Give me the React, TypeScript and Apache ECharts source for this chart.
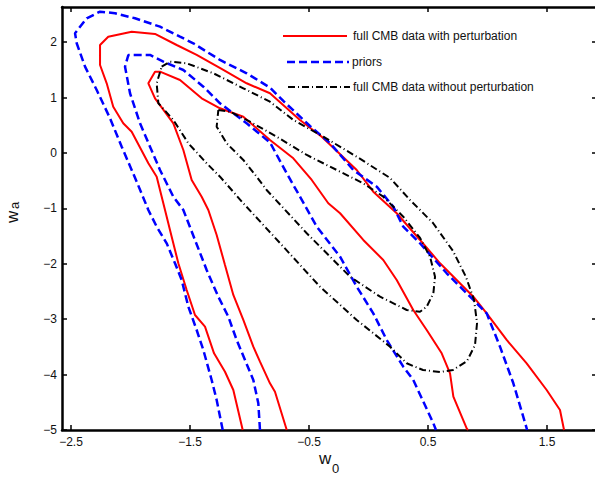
import React, { useEffect, useRef } from "react";
import * as echarts from "echarts";

const legendNames = [
  "full CMB data with perturbation",
  "priors",
  "full CMB data without perturbation",
];

const xTickValues = [-2.5, -1.5, -0.5, 0.5, 1.5];
const yTickValues = [-5, -4, -3, -2, -1, 0, 1, 2];

// full CMB data with perturbation (red) — outer and inner contours
const redOuter = [
  [-1.057, -5], [-1.136, -4.278], [-1.206, -3.948], [-1.298, -3.616], [-1.374, -3.135],
  [-1.458, -2.924], [-1.528, -2.473], [-1.598, -1.991], [-1.654, -1.511], [-1.71, -1.029],
  [-1.78, -0.428], [-1.85, -0.186], [-1.99, 0.384], [-2.061, 0.536], [-2.145, 0.836],
  [-2.2, 1.258], [-2.256, 1.588], [-2.256, 1.949], [-2.187, 2.099], [-1.99, 2.19],
  [-1.794, 2.148], [-1.612, 1.949], [-1.444, 1.769], [-1.22, 1.498], [-1.024, 1.258],
  [-0.828, 1.078], [-0.576, 0.596], [-0.393, 0.294], [-0.099, -0.307], [0.04, -0.699],
  [0.237, -1.088], [0.433, -1.57], [0.601, -1.991], [0.881, -2.594], [0.993, -2.894],
  [1.161, -3.375], [1.329, -3.796], [1.497, -4.278], [1.609, -4.639], [1.643, -5],
];
const redInner = [
  [-0.687, -5], [-0.786, -4.309], [-0.828, -4.157], [-0.912, -3.767], [-0.968, -3.496],
  [-1.052, -3.014], [-1.136, -2.563], [-1.206, -2.022], [-1.276, -1.48], [-1.346, -1.029],
  [-1.402, -0.789], [-1.486, -0.487], [-1.556, 0.054], [-1.64, 0.536], [-1.794, 0.987],
  [-1.85, 1.258], [-1.794, 1.468], [-1.752, 1.468], [-1.584, 1.318], [-1.402, 0.987],
  [-1.248, 0.807], [-1.052, 0.655], [-0.828, 0.235], [-0.632, -0.096], [-0.477, -0.487],
  [-0.338, -0.908], [-0.239, -1.088], [-0.044, -1.57], [0.124, -1.931], [0.237, -2.292],
  [0.376, -2.834], [0.489, -3.195], [0.615, -3.616], [0.685, -3.977], [0.713, -4.399],
  [0.825, -4.969], [0.836, -5],
];

// priors (blue dashed)
const blueOuter = [
  [-1.225, -5], [-1.276, -4.458], [-1.318, -4.097], [-1.388, -3.556], [-1.444, -3.195],
  [-1.514, -2.774], [-1.57, -2.292], [-1.626, -1.991], [-1.696, -1.63], [-1.78, -1.33],
  [-1.85, -1.029], [-1.948, -0.518], [-2.074, 0.114], [-2.172, 0.626], [-2.284, 1.137],
  [-2.382, 1.558], [-2.452, 1.98], [-2.466, 2.161], [-2.368, 2.431], [-2.256, 2.551],
  [-2.13, 2.522], [-1.962, 2.431], [-1.752, 2.28], [-1.584, 2.099], [-1.472, 1.98],
  [-1.248, 1.679], [-1.024, 1.439], [-0.828, 1.18], [-0.716, 0.939], [-0.492, 0.487],
  [-0.324, 0.18], [-0.128, -0.307], [0.069, -0.608], [0.208, -0.969], [0.292, -1.33],
  [0.433, -1.63], [0.657, -2.171], [0.881, -2.653], [0.993, -2.894], [1.105, -3.496],
  [1.217, -4.157], [1.329, -4.969], [1.332, -5],
];
const blueInner = [
  [-0.912, -5], [-0.926, -4.518], [-0.968, -4.097], [-1.038, -3.736], [-1.108, -3.375],
  [-1.178, -2.955], [-1.262, -2.594], [-1.36, -2.112], [-1.458, -1.57], [-1.556, -1.029],
  [-1.64, -0.789], [-1.752, -0.307], [-1.836, 0.114], [-1.92, 0.536], [-2.004, 1.078],
  [-2.046, 1.558], [-2.018, 1.769], [-1.836, 1.769], [-1.724, 1.648], [-1.556, 1.498],
  [-1.388, 1.197], [-1.248, 0.897], [-1.024, 0.536], [-0.828, 0.19], [-0.687, -0.366],
  [-0.576, -0.789], [-0.435, -1.33], [-0.239, -1.872], [-0.099, -2.413], [0.04, -2.894],
  [0.153, -3.375], [0.292, -3.857], [0.376, -4.097], [0.545, -4.879], [0.567, -5],
];

// full CMB data without perturbation (black dash-dot), closed contours
const blackOuter = [
  [-1.738, 1.558], [-1.668, 1.648], [-1.528, 1.619], [-1.304, 1.439], [-1.052, 1.168],
  [-0.828, 0.926], [-0.632, 0.596], [-0.38, 0.294], [-0.099, -0.067], [0.181, -0.451],
  [0.349, -0.848], [0.542, -1.264], [0.71, -1.769], [0.819, -2.238], [0.887, -2.653],
  [0.912, -3.069], [0.895, -3.466], [0.828, -3.755], [0.71, -3.917], [0.601, -3.953],
  [0.458, -3.917], [0.321, -3.796], [0.181, -3.496], [-0.099, -3.014], [-0.408, -2.413],
  [-0.716, -1.691], [-1.052, -0.908], [-1.248, -0.428], [-1.36, -0.186], [-1.514, 0.175],
  [-1.64, 0.596], [-1.766, 0.897], [-1.78, 1.258], [-1.738, 1.558],
];
const blackInner = [
  [-1.262, 0.776], [-1.164, 0.746], [-0.996, 0.565], [-0.771, 0.294], [-0.519, -0.036],
  [-0.267, -0.307], [-0.044, -0.547], [0.124, -0.789], [0.292, -1.15], [0.433, -1.534],
  [0.517, -1.872], [0.559, -2.233], [0.545, -2.532], [0.489, -2.774], [0.433, -2.865],
  [0.321, -2.834], [0.097, -2.594], [-0.155, -2.233], [-0.519, -1.449], [-0.856, -0.668],
  [-0.94, -0.428], [-1.052, -0.126], [-1.192, 0.175], [-1.276, 0.475], [-1.262, 0.776],
];

const FONT = '"Liberation Sans", Arial, Helvetica, sans-serif';
const RED = "#ff0000";
const BLUE = "#0000ff";
const BLACK = "#000000";
const DASH_BLUE = [8, 4];
const DASH_DOT = [7, 3, 1, 3];

const minusFmt = (v: number) => String(v).replace("-", "\u2212");

export default function App() {
  const ref = useRef<HTMLDivElement>(null);

  useEffect(() => {
    if (!ref.current) return;
    const chart = echarts.init(ref.current, undefined, { renderer: "svg" });

    const xMin = -2.5756;
    const xMax = 1.92;
    const yMin = -5;
    const yMax = 2.635;

    const mkSeries = (name: string, data: number[][], color: string, width: number, type: any) => ({
      name,
      type: "line",
      data,
      showSymbol: false,
      symbol: "none",
      smooth: false,
      clip: true,
      lineStyle: { color, width, type },
      itemStyle: { color },
      emphasis: { disabled: true },
      z: 3,
    });

    const txt = (x: number, y: number, text: string, size: number, va: string, rotation = 0) => ({
      type: "text",
      x,
      y,
      rotation,
      style: {
        text,
        fill: "#111",
        fontSize: size,
        fontFamily: FONT,
        textAlign: "left",
        textVerticalAlign: va,
        align: "left",
        verticalAlign: va,
      },
      z: 10,
    });

    const axisCommon = {
      type: "value",
      axisLine: { show: true, onZero: false, lineStyle: { color: BLACK, width: 2.5 } },
      splitLine: { show: false },
    };

    chart.setOption({
      animation: false,
      backgroundColor: "#ffffff",
      grid: { left: 62, top: 7, width: 535, height: 423, containLabel: false, outerBoundsMode: "none" },
      xAxis: [
        {
          ...axisCommon,
          min: xMin,
          max: xMax,
          position: "bottom",
          axisTick: { show: true, inside: true, length: 5, customValues: xTickValues, lineStyle: { color: BLACK, width: 1.5 } },
          axisLabel: {
            show: true,
            customValues: xTickValues,
            formatter: minusFmt,
            color: "#111",
            fontSize: 12,
            fontFamily: FONT,
            margin: 6,
          },
        },
        {
          ...axisCommon,
          min: xMin,
          max: xMax,
          position: "top",
          axisTick: { show: true, inside: true, length: 5, customValues: xTickValues, lineStyle: { color: BLACK, width: 1.5 } },
          axisLabel: { show: false },
        },
      ],
      yAxis: [
        {
          ...axisCommon,
          min: yMin,
          max: yMax,
          position: "left",
          axisTick: { show: true, inside: true, length: 5, customValues: yTickValues, lineStyle: { color: BLACK, width: 1.5 } },
          axisLabel: {
            show: true,
            customValues: yTickValues,
            formatter: minusFmt,
            color: "#111",
            fontSize: 12,
            fontFamily: FONT,
            margin: 5,
          },
        },
        {
          ...axisCommon,
          min: yMin,
          max: yMax,
          position: "right",
          axisTick: { show: true, inside: true, length: 5, customValues: yTickValues, lineStyle: { color: BLACK, width: 1.5 } },
          axisLabel: { show: false },
        },
      ],
      series: [
        mkSeries(legendNames[0], redOuter, RED, 2, "solid"),
        mkSeries(legendNames[0], redInner, RED, 2, "solid"),
        mkSeries(legendNames[1], blueOuter, BLUE, 2.5, DASH_BLUE),
        mkSeries(legendNames[1], blueInner, BLUE, 2.5, DASH_BLUE),
        mkSeries(legendNames[2], blackOuter, BLACK, 2, DASH_DOT),
        mkSeries(legendNames[2], blackInner, BLACK, 2, DASH_DOT),
      ],
      graphic: [
        { type: "line", shape: { x1: 283, y1: 36, x2: 347, y2: 36 }, style: { stroke: RED, lineWidth: 2 }, z: 10 },
        txt(353, 36, legendNames[0], 12, "middle"),
        { type: "line", shape: { x1: 287, y1: 62, x2: 349, y2: 62 }, style: { stroke: BLUE, lineWidth: 2.5, lineDash: DASH_BLUE }, z: 10 },
        txt(352, 62, legendNames[1], 12, "middle"),
        { type: "line", shape: { x1: 288, y1: 87, x2: 350, y2: 87 }, style: { stroke: BLACK, lineWidth: 2, lineDash: DASH_DOT }, z: 10 },
        txt(353, 87, legendNames[2], 12, "middle"),
        // x axis title w_0
        txt(319, 467, "w", 17, "bottom"),
        txt(332, 475, "0", 13, "bottom"),
        // y axis title w_a (rotated, reading upward)
        txt(21, 223, "w", 17, "bottom", Math.PI / 2),
        txt(21, 209, "a", 13, "bottom", Math.PI / 2),
      ],
    });

    return () => {
      chart.dispose();
    };
  }, []);

  return (
    <div
      ref={ref}
      style={{ position: "absolute", left: 0, top: 0, width: 595, height: 479, background: "#fff" }}
    />
  );
}
